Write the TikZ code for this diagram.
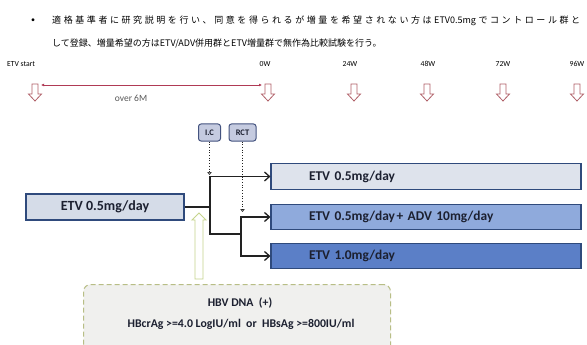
\documentclass[tikz,border=0pt]{standalone}
\usepackage{fontspec}
\setmainfont{Carlito}
\newfontfamily\jp{Noto Sans CJK JP}
\usetikzlibrary{arrows.meta}
\definecolor{arrowred}{HTML}{B06068}
\definecolor{redline}{HTML}{B03A55}
\definecolor{tagfill}{HTML}{C5CBE0}
\definecolor{tagborder}{HTML}{44537F}
\definecolor{textdark}{HTML}{1C2030}
\definecolor{boxborder}{HTML}{2F4A7C}
\definecolor{fillL}{HTML}{D5DCE8}
\definecolor{fillA}{HTML}{DEE3EC}
\definecolor{fillB}{HTML}{8FAADC}
\definecolor{fillC}{HTML}{5B7FC7}
\definecolor{connc}{HTML}{222222}
\definecolor{greenarr}{HTML}{C6D48C}
\definecolor{dashgreen}{HTML}{B8BE86}
\definecolor{boxgray}{HTML}{F0F0EE}
\def\spreadchars#1{\ifx\relax#1\else#1\hfill\expandafter\spreadchars\fi}
\tikzset{
  weeklbl/.style={font=\fontsize{7.7}{9}\selectfont, text=black, inner sep=0pt},
  downarrow/.pic={
    \draw[draw=arrowred, fill=white, line width=0.8pt, line join=miter]
      (-3,0) -- (3,0) -- (3,10) -- (6.5,10) -- (0,17) -- (-6.5,10) -- (-3,10) -- cycle;
  },
  tagbox/.style={draw=tagborder, fill=tagfill, rounded corners=2.5pt, line width=1pt,
    minimum height=17pt, inner sep=1pt, font=\fontsize{8.5}{9}\selectfont\bfseries, text=textdark},
  armbox/.style={draw=boxborder, line width=1.1pt, minimum width=310pt, minimum height=25.5pt,
    text width=310pt, inner xsep=0pt, inner ysep=0pt, align=left,
    font=\fontsize{13.4}{15}\selectfont\bfseries, text=textdark},
  conn/.style={draw=connc, line width=1.4pt},
  connarr/.style={conn, -{Straight Barb[length=5pt,width=9pt,line width=1.3pt]}},
  dotarr/.style={draw=connc, dotted, line width=0.7pt, -{Triangle[open,length=3pt,width=4.5pt,line width=0.6pt]}},
}
\begin{document}
\begin{tikzpicture}[x=1pt,y=-1pt]
\useasboundingbox (0,0) rectangle (587,345);
\clip (0,0) rectangle (587,345);
\fill[white] (0,0) rectangle (587,345);
% header
\node[inner sep=0pt, font=\fontsize{8}{9}\selectfont] (bul) at (33,21) {•};
\node[inner sep=0pt, anchor=west, font=\jp\fontsize{9}{11}\selectfont] (t1) at (52,21)
  {\makebox[528pt][s]{\spreadchars 適格基準者に研究説明を行い、同意を得られるが増量を希望されない方は{ETV0.5mg}でコントロール群\relax と}};
\node[inner sep=0pt, anchor=west, font=\jp\fontsize{9}{11}\selectfont] (t2) at (52,44)
  {して登録、増量希望の方はETV/ADV併用群とETV増量群で無作為比較試験を行う。};
% week labels
\node[weeklbl] (l0) at (21,64) {ETV start};
\node[weeklbl] (l1) at (265,64) {0W};
\node[weeklbl] (l2) at (350,64) {24W};
\node[weeklbl] (l3) at (428,64) {48W};
\node[weeklbl] (l4) at (503,64) {72W};
\node[weeklbl] (l5) at (577,64) {96W};
% week arrows
\pic (a0) at (35,84) {downarrow};
\pic (a1) at (268,84) {downarrow};
\pic (a2) at (354,84) {downarrow};
\pic (a3) at (427,84) {downarrow};
\pic (a4) at (503,84) {downarrow};
\pic (a5) at (577,84) {downarrow};
\coordinate (s0) at (41,85);
\coordinate (s1) at (262,85);
\draw[redline, line width=0.8pt, {Latex[length=3pt,width=3pt]}-{Latex[length=3pt,width=3pt]}] (s0) -- (s1);
\node[font=\fontsize{9.5}{11}\selectfont, text=black!65, inner sep=0pt] (over) at (131,98) {over 6M};
% tags
\node[tagbox, minimum width=22pt] (ic) at (209.5,132.5) {I.C};
\node[tagbox, minimum width=27pt] (rct) at (242.5,132.5) {RCT};
% boxes
\node[draw=boxborder, fill=fillL, line width=1.1pt, minimum width=158pt, minimum height=26pt, inner sep=0pt,
  font=\fontsize{14}{15}\selectfont\bfseries, text=textdark] (L) at (105,207) {ETV 0.5mg/day};
\node[armbox, fill=fillA] (b1) at (426,176.5) {\hspace*{38pt}ETV 0.5mg/day};
\node[armbox, fill=fillB] (b2) at (426,217) {\hspace*{38pt}ETV 0.5mg/day\hspace{1.5pt}+ ADV 10mg/day};
\node[armbox, fill=fillC] (b3) at (426,256) {\hspace*{38pt}ETV 1.0mg/day};
% connectors
\coordinate (j1) at (210,207);
\coordinate (j2) at (241,234);
\draw[conn] (L.east) -- (j1);
\draw[connarr] (j1) |- (b1.west);
\draw[conn] (j1) |- (j2);
\draw[connarr] (j2) |- (b2.west);
\draw[connarr] (j2) |- (b3.west);
\coordinate (icend) at (209.5,175);
\coordinate (rctend) at (242.5,212);
\draw[dotarr] (ic.south) -- (icend);
\draw[dotarr] (rct.south) -- (rctend);
% HBV box
\node[draw=dashgreen, dash pattern=on 5pt off 3pt, fill=boxgray, rounded corners=7pt,
  minimum width=307pt, minimum height=80pt, line width=1pt, anchor=north west] (hbv) at (83,284) {};
\draw[draw=greenarr, fill=white, line width=0.9pt, line join=miter]
  (195,279) -- (203,279) -- (203,220) -- (206,220) -- (199,213) -- (192,220) -- (195,220) -- cycle;
\node[font=\fontsize{11.8}{13}\selectfont\bfseries, text=textdark, inner sep=0pt] (h1) at (240,303) {HBV DNA\ \ (+)};
\node[font=\fontsize{11.8}{13}\selectfont\bfseries, text=textdark, inner sep=0pt] (h2) at (241,324) {HBcrAg >=4.0 LogIU/ml\ \ or\ \ HBsAg >=800IU/ml};
\end{tikzpicture}
\end{document}
